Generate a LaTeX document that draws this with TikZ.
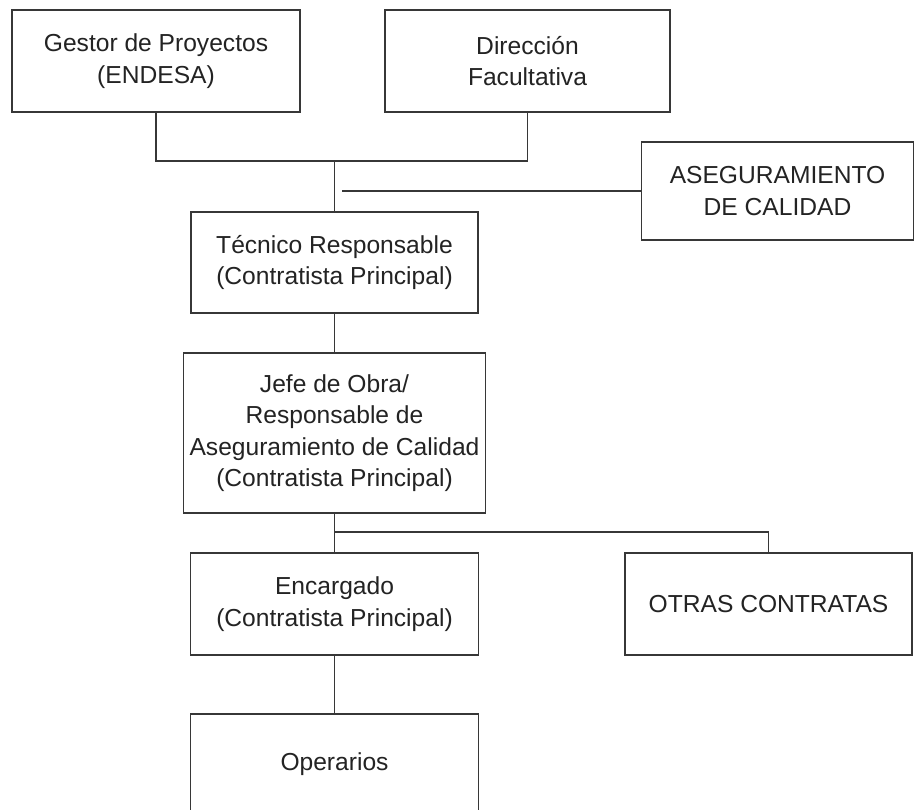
\documentclass[tikz,border=0pt]{standalone}
\usepackage{fontspec}
\setmainfont{Liberation Sans}
\usetikzlibrary{positioning}
\definecolor{linegray}{RGB}{55,55,55}
\definecolor{textgray}{RGB}{35,35,35}
\tikzset{
  wire/.style={draw=linegray, line width=0.85pt},
  box/.style={draw=linegray, line width=0.85pt, fill=white,
              inner sep=0pt, align=center, text=textgray,
              font=\fontsize{14}{17.8}\selectfont},
}

\begin{document}
\begin{tikzpicture}[x=0.02cm,y=-0.02cm]
  \clip (0,0) rectangle (915,809);

  \node[box, minimum width=288*0.02cm, minimum height=102*0.02cm] (gestor) at (156,61)
    {Gestor de Proyectos\\(ENDESA)};
  \node[box, minimum width=285*0.02cm, minimum height=102*0.02cm] (direccion) at (527.5,61)
    {Direcci\'on\\Facultativa};
  \node[box, minimum width=272*0.02cm, minimum height=98*0.02cm] (aseg) at (777.5,191)
    {ASEGURAMIENTO\\DE CALIDAD};
  \node[box, minimum width=287*0.02cm, minimum height=101*0.02cm] (tecnico) at (334.5,262.5)
    {T\'ecnico Responsable\\(Contratista Principal)};
  \node[box, minimum width=302*0.02cm, minimum height=160*0.02cm] (jefe) at (334.5,433)
    {Jefe de Obra/\\Responsable de\\Aseguramiento de Calidad\\(Contratista Principal)};
  \node[box, minimum width=288*0.02cm, minimum height=102*0.02cm] (encargado) at (334.5,604)
    {Encargado\\(Contratista Principal)};
  \node[box, minimum width=287*0.02cm, minimum height=102*0.02cm] (otras) at (768.5,604)
    {OTRAS CONTRATAS};
  \node[box, minimum width=288*0.02cm, minimum height=100*0.02cm] (operarios) at (334.5,764)
    {Operarios};

  \coordinate (top) at (334.5,161);
  \coordinate (qa) at (342,191);
  \coordinate (split) at (334.5,532);

  \draw[wire] (gestor.south) |- (top) -| (direccion.south);
  \draw[wire] (top) -- (tecnico.north);
  \draw[wire] (qa) -- (aseg.west);
  \draw[wire] (tecnico.south) -- (jefe.north);
  \draw[wire] (jefe.south) -- (encargado.north);
  \draw[wire] (split) -| (otras.north);
  \draw[wire] (encargado.south) -- (operarios.north);
\end{tikzpicture}
\end{document}
